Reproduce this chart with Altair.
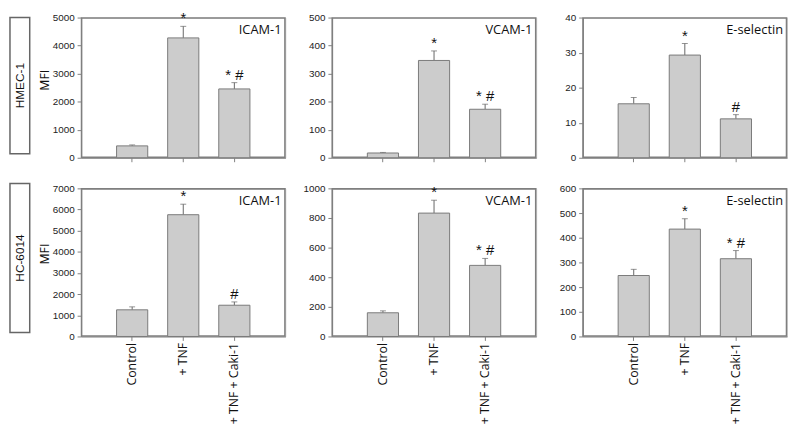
import altair as alt
import pandas as pd

conditions = ["Control", "+ TNF", "+ TNF + Caki-1"]

# HMEC-1 row
hmec_icam = [424, 4275, 2455]
hmec_icam_se = [34, 412, 224]
hmec_icam_sig = ["", "*", "* #"]
hmec_vcam = [17, 347, 173]
hmec_vcam_se = [2, 34, 18]
hmec_vcam_sig = ["", "*", "* #"]
hmec_esel = [15.4, 29.3, 11.1]
hmec_esel_se = [1.8, 3.3, 1.2]
hmec_esel_sig = ["", "*", "#"]

# HC-6014 row
hc_icam = [1260, 5755, 1477]
hc_icam_se = [140, 497, 156]
hc_icam_sig = ["", "*", "#"]
hc_vcam = [160, 833, 480]
hc_vcam_se = [13, 87, 47]
hc_vcam_sig = ["", "*", "* #"]
hc_esel = [247, 435, 315]
hc_esel_se = [25, 42, 33]
hc_esel_sig = ["", "*", "* #"]

hmec_icam_ticks = [0, 1000, 2000, 3000, 4000, 5000]
hmec_vcam_ticks = [0, 100, 200, 300, 400, 500]
hmec_esel_ticks = [0, 10, 20, 30, 40]
hc_icam_ticks = [0, 1000, 2000, 3000, 4000, 5000, 6000, 7000]
hc_vcam_ticks = [0, 200, 400, 600, 800, 1000]
hc_esel_ticks = [0, 100, 200, 300, 400, 500, 600]

row_labels = ["HMEC-1", "HC-6014"]
markers = ["ICAM-1", "VCAM-1", "E-selectin"]

W = 207
H_TOP = 142
H_BOT = 150


def panel(vals, se, sig, ticks, marker, bottom, first, row_label, h, title_y, box):
    df = pd.DataFrame({"cond": conditions, "value": vals, "se": se, "sig": sig})
    df["top"] = df["value"] + df["se"]

    xaxis = alt.Axis(title=None, labels=bottom, labelAngle=270, ticks=True, tickSize=4,
                     labelPadding=2, labelFont="Open Sans", labelFontSize=12.5,
                     labelColor="#111111", domainColor="#808080", tickColor="#808080")
    yaxis = alt.Axis(values=ticks, format="d", title="MFI" if first else None, grid=False,
                     tickSize=4, labelPadding=3, labelFont="Liberation Sans",
                     labelFontSize=10, labelColor="#222222", domainColor="#808080",
                     tickColor="#808080", titleFont="Open Sans", titleFontSize=12.5,
                     titleFontWeight="normal", titleColor="#111111", titleX=-37,
                     titleY=title_y, titleAngle=270, titleAlign="center",
                     titleBaseline="middle")
    xs = alt.Scale(paddingInner=0.39, paddingOuter=0.695)
    ys = alt.Scale(domain=[ticks[0], ticks[-1]], nice=False, zero=True)

    def X():
        return alt.X("cond:N", sort=conditions, scale=xs, axis=xaxis)

    def Y(f):
        return alt.Y(f, scale=ys, axis=yaxis)

    one = pd.DataFrame({"t": [marker]})
    frame = alt.Chart(one).mark_rect(fill="white", fillOpacity=0, stroke="#7f7f7f",
                                     strokeWidth=1.6).encode(
        x=alt.value(0.5), x2=alt.value(W - 0.5), y=alt.value(0.5), y2=alt.value(h - 0.5))
    base = alt.Chart(df)
    err = base.mark_rule(color="#666666", strokeWidth=1).encode(
        x=X(), y=Y("value:Q"), y2="top:Q")
    cap = base.mark_tick(color="#666666", size=6, thickness=1).encode(x=X(), y=Y("top:Q"))
    bars = base.mark_bar(fill="#cccccc", stroke="#7a7a7a", strokeWidth=1).encode(
        x=X(), y=Y("value:Q"))
    sig_t = base.mark_text(baseline="alphabetic", dy=-3, font="Liberation Sans",
                           fontSize=15, color="#111111").encode(
        x=X(), y=Y("top:Q"), text="sig:N")
    ttl = alt.Chart(one).mark_text(
        align="right", baseline="middle", font="Open Sans", fontSize=13,
        color="#111111").encode(x=alt.value(W - 4), y=alt.value(13), text="t:N")
    layers = [frame, err, cap, bars, sig_t, ttl]
    if first:
        lab = pd.DataFrame({"t": [row_label]})
        rect = alt.Chart(lab).mark_rect(fill="white", fillOpacity=0, stroke="#666666",
                                        strokeWidth=1.5).encode(
            x=alt.value(-72), x2=alt.value(-52), y=alt.value(box[0]), y2=alt.value(box[1]))
        rtxt = alt.Chart(lab).mark_text(angle=270, align="center", baseline="middle",
                                        font="Liberation Sans", fontSize=12,
                                        color="#111111").encode(
            x=alt.value(-62), y=alt.value((box[0] + box[1]) / 2), text="t:N")
        layers += [rect, rtxt]
    return alt.layer(*layers).properties(width=W, height=h)


panels = [
    panel(hmec_icam, hmec_icam_se, hmec_icam_sig, hmec_icam_ticks, markers[0], False, True,
          row_labels[0], H_TOP, 63, (0, H_TOP - 4)),
    panel(hmec_vcam, hmec_vcam_se, hmec_vcam_sig, hmec_vcam_ticks, markers[1], False, False,
          None, H_TOP, 63, None),
    panel(hmec_esel, hmec_esel_se, hmec_esel_sig, hmec_esel_ticks, markers[2], False, False,
          None, H_TOP, 63, None),
    panel(hc_icam, hc_icam_se, hc_icam_sig, hc_icam_ticks, markers[0], True, True,
          row_labels[1], H_BOT, 66, (-5, H_BOT - 4)),
    panel(hc_vcam, hc_vcam_se, hc_vcam_sig, hc_vcam_ticks, markers[1], True, False,
          None, H_BOT, 66, None),
    panel(hc_esel, hc_esel_se, hc_esel_sig, hc_esel_ticks, markers[2], True, False,
          None, H_BOT, 66, None),
]

chart = alt.concat(*panels, columns=3, spacing=alt.RowColnumber(row=31, column=47),
                   bounds="flush", padding=0).configure_view(
    stroke=None).configure(background="white")

chart.save("out.html", embed_options={"renderer": "svg", "actions": False})
